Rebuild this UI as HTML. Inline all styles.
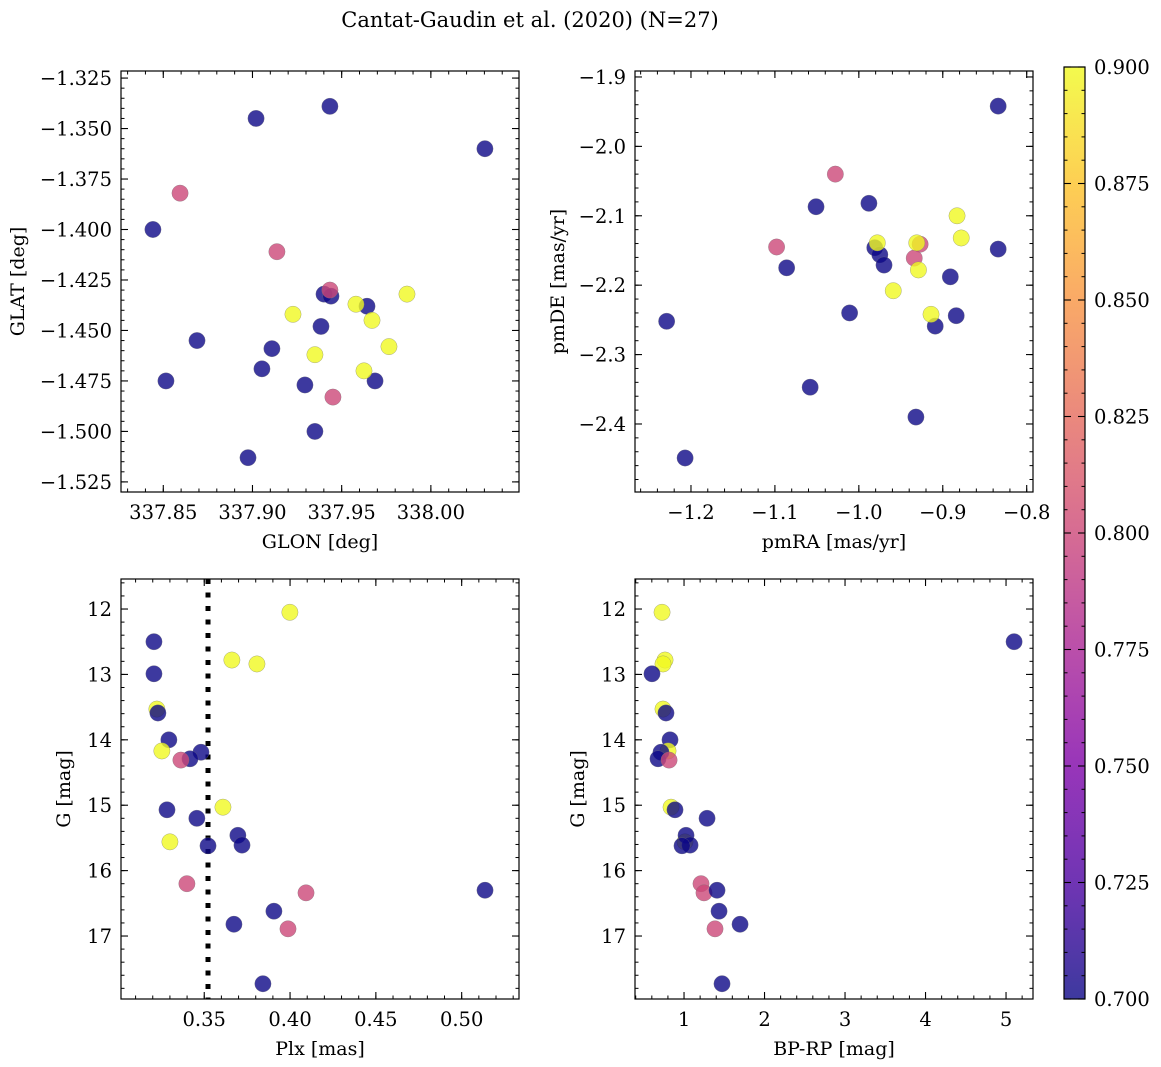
<!DOCTYPE html>
<html><head><meta charset="utf-8"><style>
html,body{margin:0;padding:0;background:#fff;}
svg{display:block;font-family:"DejaVu Serif","Liberation Serif",serif;}
</style></head><body>
<svg id="fig" width="1161" height="1067" viewBox="0 0 1161 1067" xmlns="http://www.w3.org/2000/svg">
<text x="530" y="27" text-anchor="middle" font-size="21">Cantat-Gaudin et al. (2020) (N=27)</text>
</svg>
<script>
// Panel 1: GLON / GLAT
const p1Glon=[337.8442,337.9020,337.9434,338.0303,337.8515,337.8689,337.9109,337.9053,337.9294,337.9384,337.9401,337.9440,337.9642,337.9687,337.9350,337.8975,337.8594,337.9137,337.9434,337.9451,337.9227,337.9580,337.9670,337.9350,337.9765,337.9625,337.9866];
const p1Glat=[-1.400,-1.345,-1.339,-1.360,-1.475,-1.455,-1.459,-1.469,-1.477,-1.448,-1.432,-1.433,-1.438,-1.475,-1.500,-1.513,-1.382,-1.411,-1.430,-1.483,-1.442,-1.437,-1.445,-1.462,-1.458,-1.470,-1.432];
const p1Col=[0.7,0.7,0.7,0.7,0.7,0.7,0.7,0.7,0.7,0.7,0.7,0.7,0.7,0.7,0.7,0.7,0.80,0.80,0.80,0.80,0.9,0.9,0.9,0.9,0.9,0.9,0.9];
// Panel 2: pmRA / pmDE
const p2PmRA=[-1.051,-0.988,-1.086,-0.981,-0.975,-0.970,-0.834,-0.891,-1.011,-0.884,-0.909,-1.058,-0.932,-0.834,-1.207,-1.229,-1.028,-1.098,-0.927,-0.934,-0.978,-0.931,-0.929,-0.883,-0.878,-0.959,-0.914];
const p2PmDE=[-2.087,-2.082,-2.175,-2.146,-2.156,-2.171,-2.148,-2.188,-2.240,-2.244,-2.259,-2.347,-2.390,-1.942,-2.449,-2.252,-2.040,-2.145,-2.141,-2.161,-2.139,-2.139,-2.178,-2.100,-2.132,-2.208,-2.242];
const p2Col=[0.7,0.7,0.7,0.7,0.7,0.7,0.7,0.7,0.7,0.7,0.7,0.7,0.7,0.7,0.7,0.7,0.80,0.80,0.80,0.80,0.9,0.9,0.9,0.9,0.9,0.9,0.9];
// Panels 3/4: Plx, BP-RP, G
const starPlx=[0.3999,0.3207,0.3661,0.3807,0.3207,0.3224,0.3230,0.3294,0.3253,0.3481,0.3417,0.3364,0.3609,0.3283,0.3457,0.3300,0.3696,0.3720,0.3522,0.3399,0.4093,0.5136,0.3906,0.3673,0.3988,0.3842];
const starG=[12.05,12.50,12.78,12.84,12.99,13.53,13.59,14.00,14.17,14.19,14.29,14.31,15.03,15.07,15.20,15.56,15.46,15.61,15.62,16.20,16.34,16.30,16.62,16.82,16.89,17.73];
const starBPRP=[0.727,5.10,0.764,0.739,0.602,0.739,0.776,0.826,0.801,0.714,0.677,0.814,0.839,0.888,1.286,1.012,1.025,1.075,0.975,1.211,1.248,1.410,1.435,1.696,1.385,1.472];
const starCol=[0.9,0.7,0.9,0.9,0.7,0.9,0.7,0.7,0.9,0.7,0.7,0.80,0.9,0.7,0.7,0.9,0.7,0.7,0.7,0.80,0.80,0.7,0.7,0.7,0.80,0.7];
const plxCut=0.3522;
const cbTicks=[0.700,0.725,0.750,0.775,0.800,0.825,0.850,0.875,0.900];

const NS="http://www.w3.org/2000/svg";
const svg=document.getElementById('fig');
const TFS=19.5, LFS=19;
function mk(tag,attrs,parent){const e=document.createElementNS(NS,tag);for(const k in attrs)e.setAttribute(k,attrs[k]);(parent||svg).appendChild(e);return e;}
const stops=[[0,13,8,135],[0.125,76,2,161],[0.25,126,3,168],[0.375,169,35,149],[0.5,204,71,120],[0.625,229,107,93],[0.75,248,148,65],[0.875,253,195,40],[1,240,249,33]];
function plasma(t){t=Math.max(0,Math.min(1,t));for(let i=1;i<stops.length;i++){if(t<=stops[i][0]){const a=stops[i-1],b=stops[i],f=(t-a[0])/(b[0]-a[0]);return 'rgb('+[1,2,3].map(j=>Math.round(a[j]+(b[j]-a[j])*f)).join(',')+')';}}return 'rgb(240,249,33)';}
function cmap(v){return plasma((v-0.7)/0.2);}
function fmt(v,d){const s=Math.abs(v).toFixed(d);return (v<-1e-9?'\u2212':'')+s;}

function panel(o){
  const g=mk('g',{});
  
  
  const sx=v=>o.x0+(v-o.xmin)/(o.xmax-o.xmin)*(o.x1-o.x0);
  const sy=o.yinv?(v=>o.y0+(v-o.ymin)/(o.ymax-o.ymin)*(o.y1-o.y0)):(v=>o.y1-(v-o.ymin)/(o.ymax-o.ymin)*(o.y1-o.y0));
  const cl='c'+o.name;
  const cp=mk('clipPath',{id:cl},g);mk('rect',{x:o.x0,y:o.y0,width:o.x1-o.x0,height:o.y1-o.y0},cp);
  const pts=mk('g',{'clip-path':'url(#'+cl+')'},g);
  if(o.extra)o.extra(pts,sx,sy);
  for(let i=0;i<o.xs.length;i++){
    const c=mk('circle',{cx:sx(o.xs[i]),cy:sy(o.ys[i]),r:8.2,fill:cmap(o.cs[i]),'fill-opacity':0.8,stroke:'#777','stroke-width':0.5,'stroke-opacity':0.6},pts);
    
    
  }
  mk('rect',{x:o.x0,y:o.y0,width:o.x1-o.x0,height:o.y1-o.y0,fill:'none',stroke:'#000','stroke-width':1.2},g);
  const eps=1e-9;
  const tk=(start,step,min,max,fn)=>{let k=Math.ceil((min-eps)/step);for(;k*step<=max+eps;k++)fn(+(k*step).toFixed(6));};
  tk(0,o.xminor,o.xmin,o.xmax,v=>{const x=sx(v);mk('line',{x1:x,x2:x,y1:o.y1,y2:o.y1-3.5,stroke:'#000'},g);mk('line',{x1:x,x2:x,y1:o.y0,y2:o.y0+3.5,stroke:'#000'},g);});
  tk(0,o.yminor,o.ymin,o.ymax,v=>{const y=sy(v);mk('line',{x1:o.x0,x2:o.x0+3.5,y1:y,y2:y,stroke:'#000'},g);mk('line',{x1:o.x1,x2:o.x1-3.5,y1:y,y2:y,stroke:'#000'},g);});
  tk(0,o.xmajor,o.xmin,o.xmax,v=>{const x=sx(v);mk('line',{x1:x,x2:x,y1:o.y1,y2:o.y1-7,stroke:'#000','stroke-width':1.1},g);mk('line',{x1:x,x2:x,y1:o.y0,y2:o.y0+7,stroke:'#000','stroke-width':1.1},g);
    const t=mk('text',{x:x,y:o.y1+27,'text-anchor':'middle','font-size':TFS},g);t.textContent=fmt(v,o.xd);
    });
  tk(0,o.ymajor,o.ymin,o.ymax,v=>{const y=sy(v);mk('line',{x1:o.x0,x2:o.x0+7,y1:y,y2:y,stroke:'#000','stroke-width':1.1},g);mk('line',{x1:o.x1,x2:o.x1-7,y1:y,y2:y,stroke:'#000','stroke-width':1.1},g);
    const t=mk('text',{x:o.x0-9,y:y+7,'text-anchor':'end','font-size':TFS},g);t.textContent=fmt(v,o.yd);
    });
  const xl=mk('text',{x:(o.x0+o.x1)/2,y:o.y1+56,'text-anchor':'middle','font-size':LFS},g);xl.textContent=o.xlabel;
  
  const yx=o.ylx,yy=(o.y0+o.y1)/2;
  const yl=mk('text',{x:yx,y:yy,'text-anchor':'middle','font-size':LFS,transform:'rotate(-90 '+yx+' '+yy+')'},g);yl.textContent=o.ylabel;
  
}

panel({name:'glon-glat-panel',x0:121,x1:519,y0:71,y1:492,xmin:337.8263,xmax:338.0494,ymin:-1.530,ymax:-1.3215,xmajor:0.05,xminor:0.01,ymajor:0.025,yminor:0.005,xd:2,yd:3,xs:p1Glon,ys:p1Glat,cs:p1Col,xlabel:'GLON [deg]',ylabel:'GLAT [deg]',ylx:24});
panel({name:'proper-motion-panel',x0:635,x1:1033,y0:71,y1:492,xmin:-1.2667,xmax:-0.7925,ymin:-2.498,ymax:-1.8914,xmajor:0.1,xminor:0.02,ymajor:0.1,yminor:0.02,xd:1,yd:1,xs:p2PmRA,ys:p2PmDE,cs:p2Col,xlabel:'pmRA [mas/yr]',ylabel:'pmDE [mas/yr]',ylx:564});
panel({name:'plx-g-panel',x0:121,x1:519,y0:579,y1:999,xmin:0.3015,xmax:0.5334,ymin:11.541,ymax:17.963,yinv:true,xmajor:0.05,xminor:0.01,ymajor:1,yminor:0.2,xd:2,yd:0,xs:starPlx,ys:starG,cs:starCol,xlabel:'Plx [mas]',ylabel:'G [mag]',ylx:70,
  extra:(g,sx,sy)=>{const l=mk('line',{x1:sx(plxCut),x2:sx(plxCut),y1:579,y2:999,stroke:'#000','stroke-width':5,'stroke-dasharray':'5 8.5'},g);}});
panel({name:'cmd-panel',x0:635,x1:1033,y0:579,y1:999,xmin:0.391,xmax:5.335,ymin:11.541,ymax:17.963,yinv:true,xmajor:1,xminor:0.2,ymajor:1,yminor:0.2,xd:0,yd:0,xs:starBPRP,ys:starG,cs:starCol,xlabel:'BP-RP [mag]',ylabel:'G [mag]',ylx:584});

(function(){
  const g=mk('g',{});
  
  
  const x0=1064,x1=1085,y0=67,y1=999;
  const defs=mk('defs',{},g);const lg=mk('linearGradient',{id:'cbg',x1:0,y1:1,x2:0,y2:0},defs);
  for(let i=0;i<=16;i++){mk('stop',{offset:i/16,'stop-color':plasma(i/16),'stop-opacity':0.8},lg);}
  mk('rect',{x:x0,y:y0,width:x1-x0,height:y1-y0,fill:'url(#cbg)'},g);
  mk('rect',{x:x0,y:y0,width:x1-x0,height:y1-y0,fill:'none',stroke:'#000','stroke-width':1.2},g);
  const sy=v=>y1-(v-0.7)/0.2*(y1-y0);
  for(let k=0;k<=40;k++){const y=sy(0.7+k*0.005);mk('line',{x1:x1,x2:x1-3.5,y1:y,y2:y,stroke:'#000'},g);mk('line',{x1:x0,x2:x0+3.5,y1:y,y2:y,stroke:'#000'},g);}
  cbTicks.forEach(v=>{const y=sy(v);mk('line',{x1:x1,x2:x1-7,y1:y,y2:y,stroke:'#000','stroke-width':1.1},g);mk('line',{x1:x0,x2:x0+7,y1:y,y2:y,stroke:'#000','stroke-width':1.1},g);
    const t=mk('text',{x:x1+9,y:y+7,'font-size':TFS},g);t.textContent=v.toFixed(3);
    });
})();
</script>
</body></html>
